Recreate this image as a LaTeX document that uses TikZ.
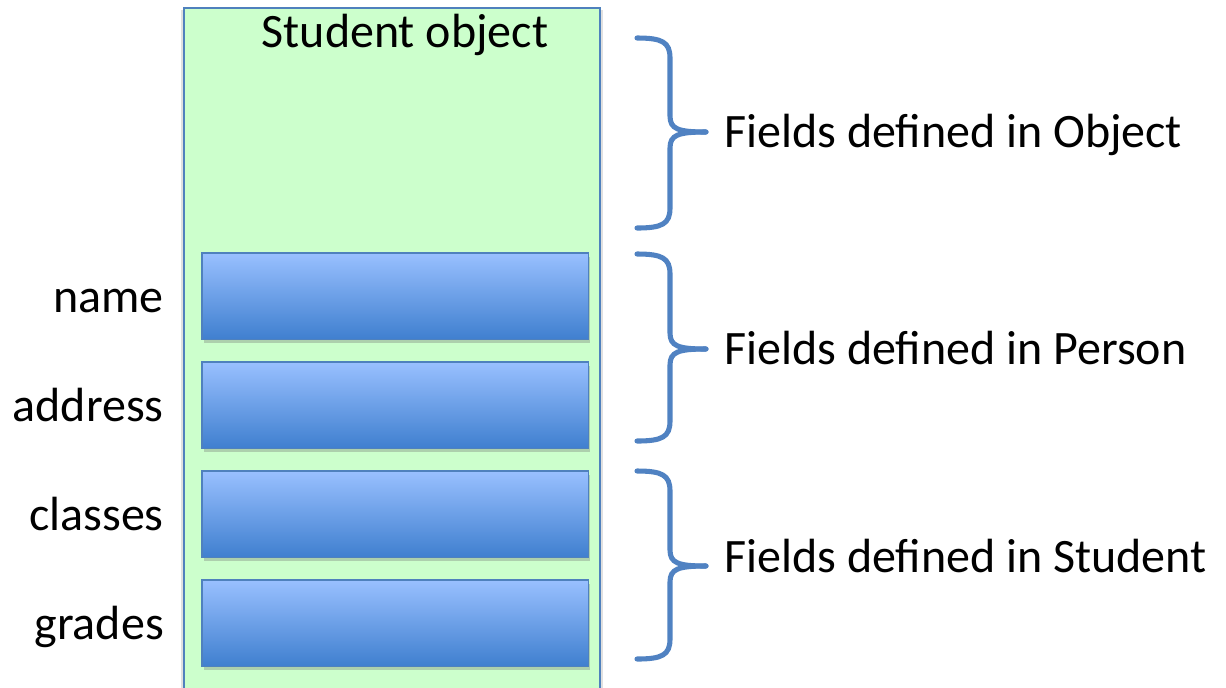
\documentclass[tikz,border=0pt]{standalone}
\usepackage{fontspec}
\setmainfont{Carlito}
\usetikzlibrary{shadows}
\definecolor{objfill}{HTML}{CCFFCC}
\definecolor{edgeblue}{HTML}{4F81BD}
\definecolor{topblue}{HTML}{99C0FF}
\definecolor{botblue}{HTML}{3F7FCF}
\definecolor{bracecol}{HTML}{5082C2}
\tikzset{
  field/.style={draw=edgeblue, line width=1.2pt, top color=topblue, bottom color=botblue,
    drop shadow={shadow xshift=1.5pt, shadow yshift=-3pt, opacity=0.3, fill=black!60},
    minimum width=290pt, minimum height=65pt, anchor=north west, inner sep=0pt},
  lbl/.style={font=\fontsize{36}{42}\selectfont, anchor=base east, inner sep=0pt},
  desc/.style={font=\fontsize{36}{42}\selectfont, anchor=base west, inner sep=0pt},
  brace/.style={draw=bracecol, line width=3.8pt, line cap=round}
}
\begin{document}
\begin{tikzpicture}[x=0.75pt, y=-0.75pt]
\useasboundingbox (0,0) rectangle (1226,687);
\begin{scope}
\clip (0,0) rectangle (1226,687);
\fill[black, opacity=0.12] (181,10) rectangle (603,700);
\draw[draw=edgeblue, fill=objfill, line width=1.2pt] (184,8) rectangle (600,700);
\end{scope}
\node[font=\fontsize{36}{42}\selectfont, anchor=base, inner sep=0pt] (title) at (405,47) {Student object};
\node[field] (f1) at (201,252) {};
\node[field] (f2) at (201,361) {};
\node[field] (f3) at (201,470) {};
\node[field] (f4) at (201,579) {};
\node[lbl] (l1) at (164,312) {name};
\node[lbl] (l2) at (164,421) {address};
\node[lbl] (l3) at (164,530) {classes};
\node[lbl] (l4) at (164,639) {grades};
% braces
\foreach \t/\m/\b in {38/132/228, 254/349/441, 471/566/659} {
  \draw[brace] (637,\t) .. controls (662,\t) and (670,\t+4) .. (670,\t+20)
     -- (670,\m-16) .. controls (670,\m-3) and (678,\m) .. (706,\m);
  \draw[brace] (706,\m) .. controls (678,\m) and (670,\m+3) .. (670,\m+16)
     -- (670,\b-20) .. controls (670,\b-4) and (662,\b) .. (637,\b);
}
\node[desc] (d1) at (724,147) {Fields defined in Object};
\node[desc] (d2) at (724,364) {Fields defined in Person};
\node[desc] (d3) at (724,572) {Fields defined in Student};
\end{tikzpicture}
\end{document}
